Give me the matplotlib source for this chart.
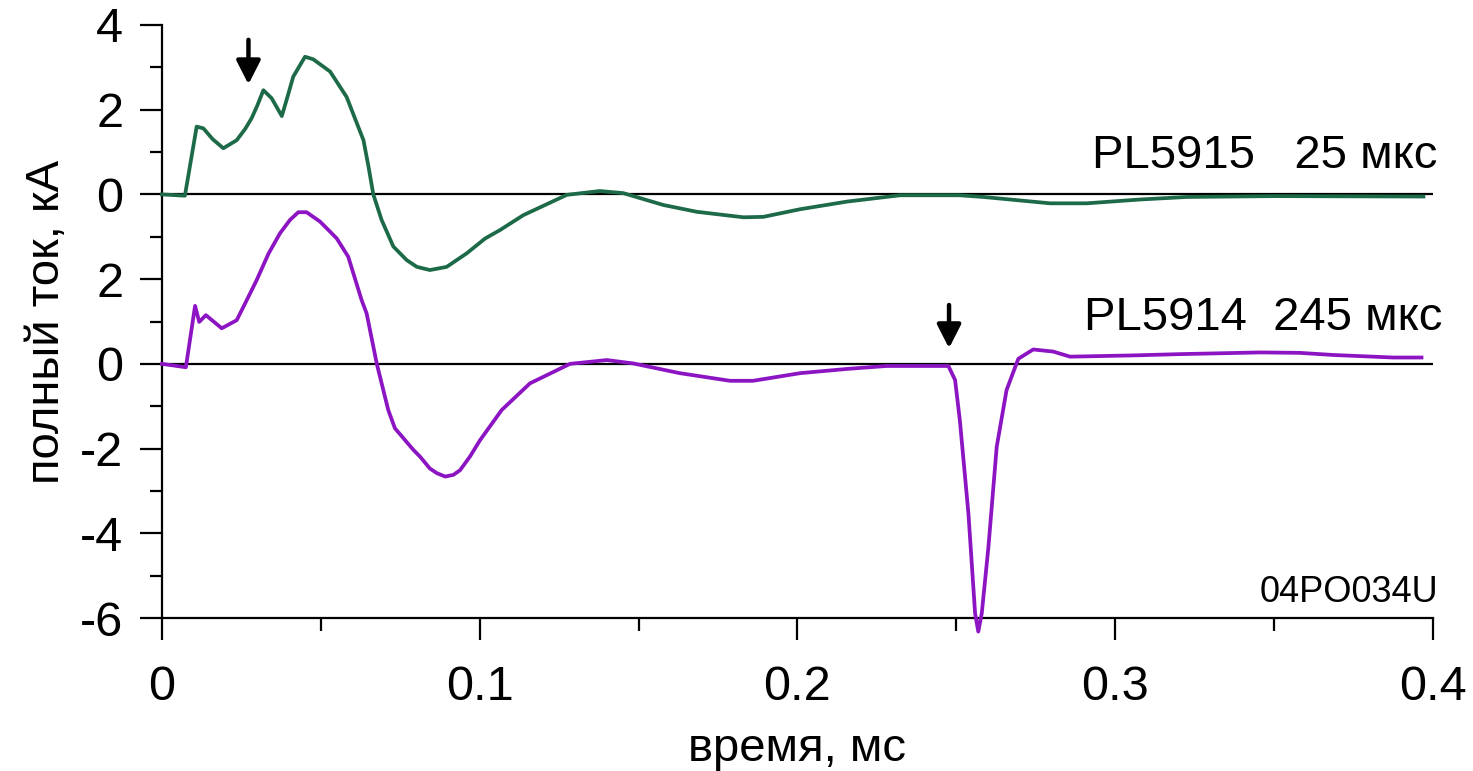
import matplotlib
matplotlib.use("Agg")
import matplotlib.pyplot as plt
from matplotlib.ticker import MultipleLocator

plt.rcParams['font.family'] = ['Liberation Sans', 'DejaVu Sans']

# PL5915 (25 mks), kA, drawn shifted up by 4
t_upper = [0, 0.0072, 0.0109, 0.013, 0.016, 0.0193, 0.0235, 0.0262, 0.0282, 0.0300,
           0.0319, 0.0345, 0.0377, 0.0392, 0.0413, 0.045, 0.0476, 0.0529, 0.0581, 0.0634,
           0.065, 0.0665, 0.0691, 0.0728, 0.0770, 0.0802, 0.0843, 0.0896, 0.0959, 0.1017,
           0.1064, 0.1137, 0.1274, 0.1378, 0.1452, 0.1578, 0.1683, 0.183, 0.1892, 0.2008,
           0.2155, 0.2323, 0.251, 0.2585, 0.2795, 0.291, 0.3078, 0.3225, 0.35, 0.397]
i_upper = [0, -0.03, 1.6, 1.56, 1.3, 1.09, 1.28, 1.55, 1.8, 2.1,
           2.46, 2.27, 1.85, 2.23, 2.78, 3.25, 3.19, 2.9, 2.3, 1.28,
           0.65, 0, -0.6, -1.23, -1.55, -1.71, -1.785, -1.71, -1.39, -1.04,
           -0.84, -0.49, -0.01, 0.08, 0.03, -0.25, -0.41, -0.54, -0.53, -0.35,
           -0.17, -0.02, -0.02, -0.06, -0.21, -0.21, -0.12, -0.06, -0.04, -0.05]
upper_offset = 4

# PL5914 (245 mks), kA
t_lower = [0, 0.0075, 0.0104, 0.0117, 0.0138, 0.0188, 0.0235, 0.0272, 0.0298, 0.0335,
           0.0371, 0.0403, 0.0429, 0.0455, 0.0497, 0.0529, 0.055, 0.0586, 0.0628, 0.0644,
           0.0676, 0.0712, 0.0733, 0.0791, 0.0812, 0.0843, 0.0865, 0.0891, 0.0917, 0.0938,
           0.0969, 0.1001, 0.1069, 0.1158, 0.1284, 0.14, 0.1483, 0.163, 0.1788, 0.186,
           0.2008, 0.2155, 0.228, 0.2475, 0.2496, 0.2511, 0.2538, 0.2559, 0.2569, 0.258,
           0.2601, 0.2627, 0.2658, 0.2695, 0.2742, 0.2805, 0.2858, 0.3057, 0.3204, 0.3456,
           0.358, 0.3686, 0.3875, 0.3964]
i_lower = [0, -0.08, 1.37, 0.99, 1.15, 0.84, 1.03, 1.585, 1.98, 2.6,
           3.08, 3.4, 3.58, 3.58, 3.36, 3.12, 2.96, 2.53, 1.51, 1.19,
           0, -1.09, -1.52, -2.03, -2.19, -2.47, -2.58, -2.66, -2.62, -2.51,
           -2.19, -1.8, -1.09, -0.46, 0, 0.09, 0.01, -0.22, -0.4, -0.4,
           -0.22, -0.12, -0.05, -0.05, -0.38, -1.33, -3.53, -5.89, -6.32, -5.89,
           -4.32, -1.96, -0.62, 0.12, 0.34, 0.29, 0.17, 0.2, 0.23, 0.27,
           0.26, 0.21, 0.15, 0.15]

ytick_pos = [-6, -4, -2, 0, 2, 4, 6, 8]
ytick_labels = ['-6', '-4', '-2', '0', '2', '0', '2', '4']
xtick_pos = [0, 0.1, 0.2, 0.3, 0.4]
xtick_labels = ['0', '0.1', '0.2', '0.3', '0.4']

# arrows: (x, y_start, y_end)
arrows = [(0.0272, 7.65, 6.6), (0.2477, 1.39, 0.37)]

fig = plt.figure(figsize=(14.73, 7.71), dpi=100)
ax = fig.add_axes([0.11, 0.1984, 0.8628, 0.7692])

ax.axhline(upper_offset, color='black', lw=1.6, zorder=1)
ax.axhline(0, color='black', lw=1.6, zorder=1)

ax.plot(t_upper, [v + upper_offset for v in i_upper], color='#1d6a48', lw=2.7, zorder=3, clip_on=False)
ax.plot(t_lower, i_lower, color='#8c14c2', lw=2.7, zorder=3, clip_on=False)

for x, y0, y1 in arrows:
    ax.annotate('', xy=(x, y1), xytext=(x, y0),
                arrowprops=dict(arrowstyle='-|>,head_length=0.55,head_width=0.28',
                                mutation_scale=26, lw=3.2, color='black',
                                shrinkA=0, shrinkB=0))

ax.text(0.4013, 4.62, 'PL5915   25 мкс', fontsize=34, ha='right', va='baseline')
ax.text(0.4030, 0.8, 'PL5914  245 мкс', fontsize=34, ha='right', va='baseline')
ax.text(0.4017, -5.62, '04PO034U', fontsize=26, ha='right', va='baseline')

ax.set_xlim(0, 0.4)
ax.set_ylim(-6, 8)
ax.spines['top'].set_visible(False)
ax.spines['right'].set_visible(False)
for s in ('left', 'bottom'):
    ax.spines[s].set_linewidth(1.6)

ax.set_xticks(xtick_pos, xtick_labels)
ax.set_yticks(ytick_pos, ytick_labels)
ax.xaxis.set_minor_locator(MultipleLocator(0.05))
ax.yaxis.set_minor_locator(MultipleLocator(1))
ax.tick_params(which='major', length=16, width=1.6, labelsize=35)
ax.tick_params(which='minor', length=9, width=1.6)
ax.tick_params(axis='x', which='major', pad=18)
ax.tick_params(axis='y', which='major', pad=12)

ax.set_xlabel('время, мс', fontsize=34, labelpad=12)
ax.set_ylabel('полный ток, кА', fontsize=34, labelpad=8)

fig.savefig('out.png', dpi=100)
